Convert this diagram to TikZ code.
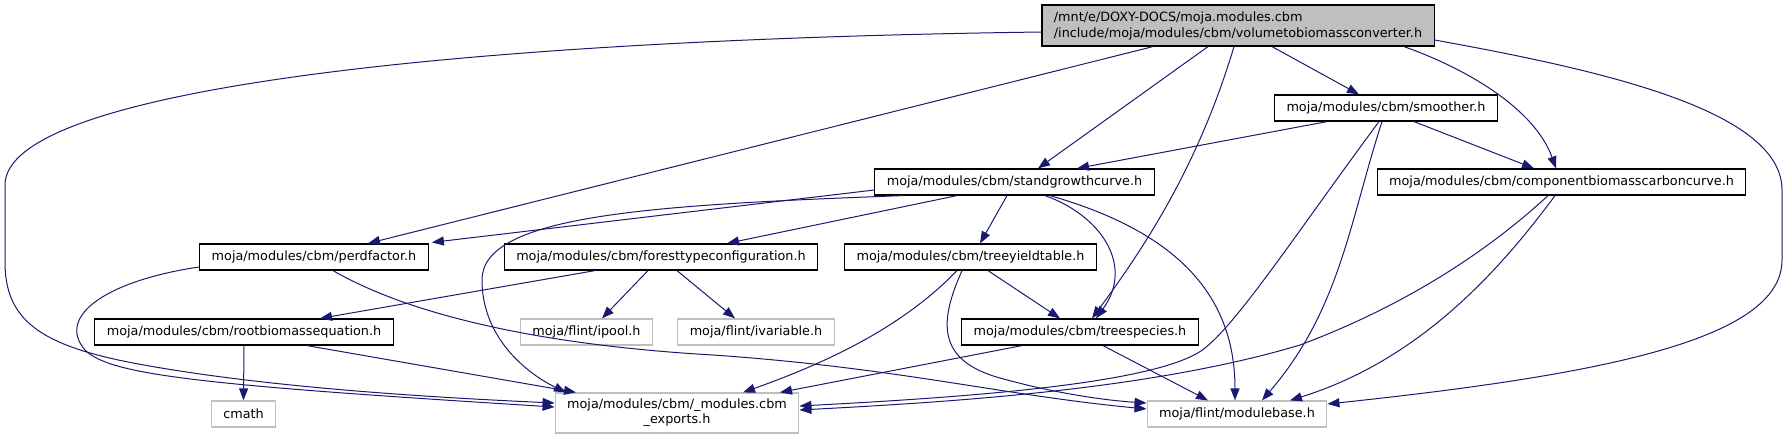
\documentclass[tikz,border=0pt]{standalone}
\usepackage{fontspec}
\setmainfont{DejaVu Sans}
\usetikzlibrary{arrows.meta}
\definecolor{edgeblue}{HTML}{191970}
\definecolor{greyseventyfive}{HTML}{BFBFBF}
\begin{document}
\begin{tikzpicture}[x=1pt,y=-1pt,
  every node/.style={font=\fontsize{12.8}{16}\selectfont, inner xsep=12pt, inner ysep=0pt, minimum height=26pt, rectangle},
  docbox/.style={draw=black, line width=1.2pt, fill=white},
  extbox/.style={draw=greyseventyfive, line width=1.2pt, fill=white},
  rootbox/.style={draw=black, line width=1.2pt, fill=greyseventyfive, align=left, minimum height=41pt},
  dep/.style={draw=edgeblue, line width=1pt, -{Triangle[length=12pt,width=9pt]}}]
\useasboundingbox (0,0) rectangle (1789,440);

\node[rootbox] (root) at (1238,25.5) {/mnt/e/DOXY-DOCS/moja.modules.cbm\\/include/moja/modules/cbm/volumetobiomassconverter.h};
\node[docbox] (smoother) at (1386,108) {moja/modules/cbm/smoother.h};
\node[docbox] (standgrowth) at (1014.5,182) {moja/modules/cbm/standgrowthcurve.h};
\node[docbox] (component) at (1561.5,182) {moja/modules/cbm/componentbiomasscarboncurve.h};
\node[docbox] (perdfactor) at (314,257) {moja/modules/cbm/perdfactor.h};
\node[docbox] (foresttype) at (661,257) {moja/modules/cbm/foresttypeconfiguration.h};
\node[docbox] (treeyield) at (970.5,257) {moja/modules/cbm/treeyieldtable.h};
\node[docbox] (rootbiomass) at (244,332) {moja/modules/cbm/rootbiomassequation.h};
\node[extbox] (ipool) at (586.5,332) {moja/flint/ipool.h};
\node[extbox] (ivariable) at (756,332) {moja/flint/ivariable.h};
\node[docbox] (treespecies) at (1080,332) {moja/modules/cbm/treespecies.h};
\node[extbox] (cmath) at (243.5,414) {cmath};
\node[extbox, align=center, minimum height=40pt, font=\fontsize{12.8}{15}\selectfont] (exports) at (677,413) {moja/modules/cbm/\_modules.cbm\\\_exports.h};
\node[extbox] (modulebase) at (1237,414) {moja/flint/modulebase.h};

% root
\draw[dep] ([yshift=-6.5pt]root.west) .. controls (450,40) and (5,90) .. (5,185) -- (5,262) .. controls (5,320) and (40,345) .. (133,363) .. controls (250,385) and (400,396) .. ([yshift=10pt]exports.west);
\draw[dep] ([xshift=-85pt]root.south) -- ([xshift=54pt]perdfactor.north);
\draw[dep] ([xshift=-30pt]root.south) -- ([xshift=23.5pt]standgrowth.north);
\draw[dep] ([xshift=-4pt]root.south) .. controls (1200,160) and (1150,240) .. ([xshift=12pt]treespecies.north);
\draw[dep] ([xshift=34pt]root.south) -- ([xshift=-27pt]smoother.north);
\draw[dep] ([xshift=166pt]root.south) .. controls (1470,70) and (1535,110) .. ([xshift=-5.5pt]component.north);
\draw[dep] ([yshift=-14.5pt]root.east) .. controls (1600,70) and (1782,110) .. (1782,190) -- (1782,260) .. controls (1782,340) and (1600,375) .. ([yshift=10pt]modulebase.east);

% smoother
\draw[dep] ([xshift=-59pt]smoother.south) -- ([xshift=62.5pt]standgrowth.north);
\draw[dep] ([xshift=28pt]smoother.south) -- ([xshift=-27.5pt]component.north);
\draw[dep] ([xshift=-7pt]smoother.south) .. controls (1300,228) and (1240,320) .. (1205,348) .. controls (1160,385) and (950,398) .. ([yshift=7pt]exports.east);
\draw[dep] ([xshift=-4pt]smoother.south) .. controls (1350,220) and (1340,310) .. ([xshift=25pt]modulebase.north);

% componentbiomasscarboncurve
\draw[dep] ([xshift=-13.5pt]component.south) .. controls (1500,240) and (1420,300) .. (1300,345) .. controls (1150,390) and (950,402) .. ([yshift=3pt]exports.east);
\draw[dep] ([xshift=-6.5pt]component.south) .. controls (1500,270) and (1420,360) .. ([xshift=53pt]modulebase.north);

% standgrowthcurve
\draw[dep] ([yshift=-8pt]standgrowth.west) -- ([xshift=3pt,yshift=1pt]perdfactor.north east);
\draw[dep] ([xshift=-111.5pt]standgrowth.south) .. controls (650,205) and (482,215) .. (482,280) .. controls (482,340) and (530,375) .. ([xshift=-111pt]exports.north);
\draw[dep] ([xshift=-57.5pt]standgrowth.south) -- ([xshift=66pt]foresttype.north);
\draw[dep] ([xshift=-7.5pt]standgrowth.south) -- ([xshift=9.5pt]treeyield.north);
\draw[dep] ([xshift=30.5pt]standgrowth.south) .. controls (1100,215) and (1135,265) .. ([xshift=16pt]treespecies.north);
\draw[dep] ([xshift=35.5pt]standgrowth.south) .. controls (1170,230) and (1235,290) .. ([xshift=-2pt]modulebase.north);

% perdfactor
\draw[dep] ([yshift=-10pt]perdfactor.west) .. controls (110,280) and (55,315) .. (85,350) .. controls (110,375) and (200,385) .. ([yshift=6pt]exports.west);
\draw[dep] ([xshift=19pt]perdfactor.south) .. controls (410,315) and (540,345) .. (713,355) .. controls (900,368) and (1000,395) .. ([yshift=5pt]modulebase.west);

% foresttypeconfiguration
\draw[dep] ([xshift=-66pt]foresttype.south) -- ([xshift=76pt]rootbiomass.north);
\draw[dep] ([xshift=-13pt]foresttype.south) -- ([xshift=15.5pt]ipool.north);
\draw[dep] ([xshift=16pt]foresttype.south) -- ([xshift=-21pt]ivariable.north);

% treeyieldtable
\draw[dep] ([xshift=17.5pt]treeyield.south) -- ([xshift=-20pt]treespecies.north);
\draw[dep] ([xshift=-13.5pt]treeyield.south) .. controls (900,330) and (820,365) .. ([xshift=66pt]exports.north);
\draw[dep] ([xshift=-8.5pt]treeyield.south) .. controls (940,320) and (935,360) .. (1000,378) .. controls (1050,392) and (1100,400) .. ([yshift=11pt]modulebase.west);

% rootbiomassequation
\draw[dep] (rootbiomass.south) -- (cmath.north);
\draw[dep] ([xshift=63pt]rootbiomass.south) -- ([xshift=-101pt]exports.north);

% treespecies
\draw[dep] ([xshift=-58pt]treespecies.south) -- ([xshift=103pt]exports.north);
\draw[dep] ([xshift=23pt]treespecies.south) -- ([xshift=-29pt]modulebase.north);
\end{tikzpicture}
\end{document}
